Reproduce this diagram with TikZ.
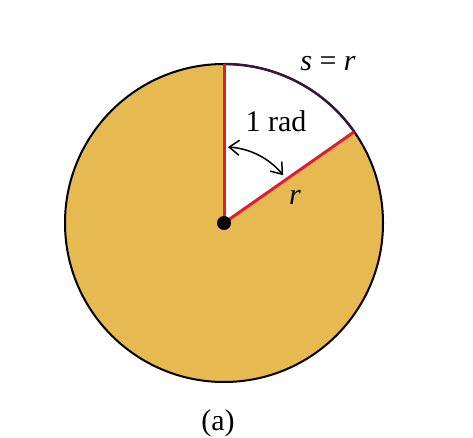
\documentclass[tikz,border=0pt]{standalone}
\usepackage{fontspec}
\setmainfont{Liberation Serif}
\usetikzlibrary{arrows.meta}
\definecolor{diskfill}{RGB}{230,186,80}
\definecolor{radred}{RGB}{224,30,45}
\definecolor{arcdark}{RGB}{60,20,60}
\begin{document}
\begin{tikzpicture}[x=1pt,y=-1pt,
  lbl/.style={font=\fontsize{30}{33}\selectfont, inner sep=0pt},
  radline/.style={draw=radred, line width=3pt},
  outline/.style={draw=black, line width=2pt},
  barb/.style={Straight Barb[length=10pt,width=15pt]}]
\useasboundingbox[fill=white] (0,0) rectangle (473,438);
\coordinate (O) at (224,223);
% disk
\fill[diskfill] (O) circle[radius=159];
% white sector
\fill[white] (O) -- ++(-90:159) arc[start angle=-90, end angle=-35, radius=159] -- cycle;
\draw[outline] (O) circle[radius=159];
\draw[draw=arcdark, line width=2.4pt] ([shift={(-90:159)}]O) arc[start angle=-90, end angle=-35, radius=159];
% radii
\coordinate (T) at ([shift={(-90:159)}]O);
\coordinate (E) at ([shift={(-35:159)}]O);
\draw[radline] (O) -- (T);
\draw[radline] (O) -- (E);
% center dot
\node[circle, fill=black, minimum size=14pt, inner sep=0pt] (c) at (O) {};
% angle arrow
\draw[black, line width=1.5pt, {Straight Barb[length=10pt,width=15pt]}-{Straight Barb[length=10pt,width=15pt]}]
  ([shift={(-87:76)}]O) arc[start angle=-87, end angle=-39, radius=76];
% labels
\node[lbl] (srad) at (276,121) {1 rad};
\node[lbl] (r) at (295,197) {\itshape r};
\node[lbl] (s) at (328,64) {\itshape s\/ \upshape = \itshape r};
\node[lbl] (a) at (218,423) {(a)};
\end{tikzpicture}
\end{document}
